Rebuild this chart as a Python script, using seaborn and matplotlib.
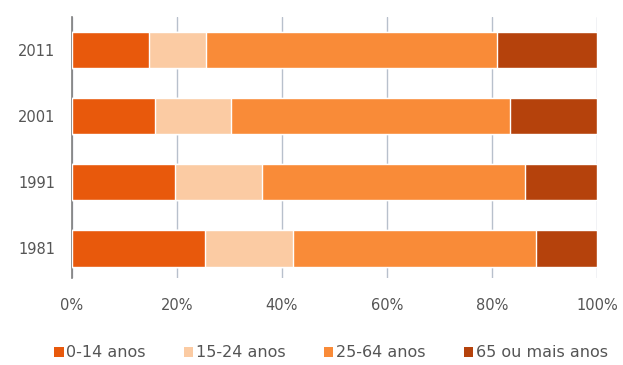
import pandas as pd
import seaborn as sns
import matplotlib.pyplot as plt
from matplotlib.patches import Patch
from matplotlib.ticker import PercentFormatter

# dados (% da população por faixa etária)
anos = ['2011', '2001', '1991', '1981']
faixas = ['0-14 anos', '15-24 anos', '25-64 anos', '65 ou mais anos']
v_0_14 = [14.6, 15.8, 19.7, 25.3]
v_15_24 = [11.0, 14.4, 16.5, 16.8]
v_25_64 = [55.3, 53.3, 50.1, 46.3]
v_65 = [19.1, 16.5, 13.7, 11.6]
cores = ['#E8590C', '#FBCBA3', '#F98B38', '#B5420C']

df = pd.DataFrame({'ano': anos, faixas[0]: v_0_14, faixas[1]: v_15_24,
                   faixas[2]: v_25_64, faixas[3]: v_65})
acum = df[faixas].cumsum(axis=1)
acum['ano'] = df['ano']

sns.set_style("white")
plt.rcParams['font.family'] = ['DejaVu Sans']

fig, ax = plt.subplots(figsize=(6.23, 3.65), dpi=100)
fig.subplots_adjust(left=0.1156, right=0.958, top=0.953, bottom=0.238)

# barras empilhadas: desenhar do total acumulado para o menor
for faixa, cor in reversed(list(zip(faixas, cores))):
    sns.barplot(data=acum, x=faixa, y='ano', order=anos, color=cor,
                width=0.55, saturation=1, ax=ax, zorder=3)

ax.set_xlim(0, 100)
ax.set_ylim(3.45, -0.5)
ax.set_xticks([0, 20, 40, 60, 80, 100])
ax.xaxis.set_major_formatter(PercentFormatter(decimals=0))
ax.set_xlabel('')
ax.set_ylabel('')
ax.grid(axis='x', color='#B8C0CC', linewidth=1, zorder=0)
ax.set_axisbelow(True)
for s in ['top', 'right', 'bottom']:
    ax.spines[s].set_visible(False)
ax.spines['left'].set_color('#7F7F7F')
ax.spines['left'].set_linewidth(1.2)
ax.tick_params(axis='both', length=0, labelsize=10.5, labelcolor='#555555')
ax.tick_params(axis='x', pad=14)
ax.tick_params(axis='y', pad=12)

handles = [Patch(facecolor=c, edgecolor='none') for c in cores]
fig.legend(handles, faixas, loc='center', bbox_to_anchor=(0.531, 0.033),
           ncol=4, frameon=False, fontsize=11.5, handlelength=0.6,
           handleheight=0.6, handletextpad=0.15, columnspacing=2.4,
           labelcolor='#555555')

plt.savefig('out.png', dpi=100)
